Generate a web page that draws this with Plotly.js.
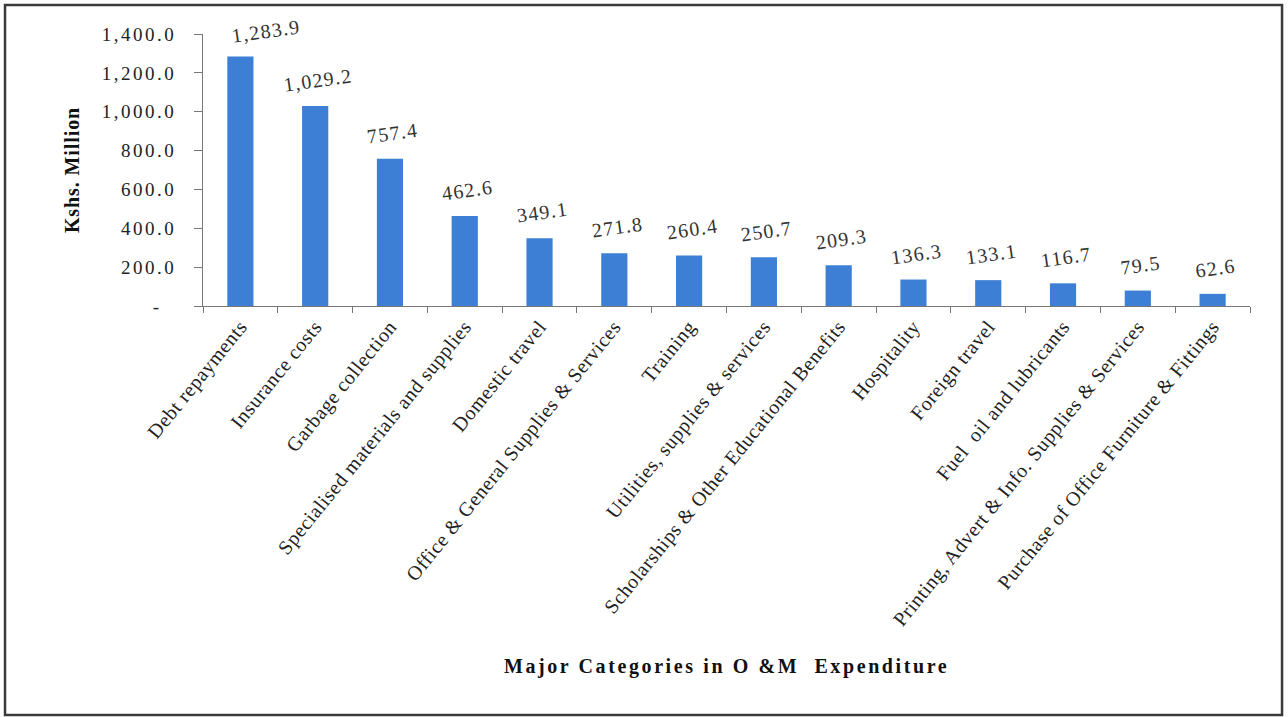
<!DOCTYPE html>
<html>
<head>
<meta charset="utf-8">
<script src="https://cdn.plot.ly/plotly-3.0.1.min.js"></script>
<style>
  html, body { margin: 0; padding: 0; background: #ffffff; }
  #chart { width: 1288px; height: 717px; }
  #chart g.xtick text { letter-spacing: 0.6px; }
  #chart g.ytick text { letter-spacing: 2.5px; }
  #chart text.ytitle { letter-spacing: 0.9px; }
  #chart g.annotation text { letter-spacing: 1.3px; }
  #chart g.annotation[data-index="14"] text { letter-spacing: 2.6px; }
</style>
</head>
<body>
<div id="chart"></div>
<script>
const categories = [
  "Debt repayments",
  "Insurance costs",
  "Garbage collection",
  "Specialised materials and supplies",
  "Domestic travel",
  "Office & General Supplies & Services",
  "Training",
  "Utilities, supplies & services",
  "Scholarships & Other Educational Benefits",
  "Hospitality",
  "Foreign travel",
  "Fuel  oil and lubricants",
  "Printing, Advert & Info. Supplies & Services",
  "Purchase of Office Furniture & Fittings"
];
const values = [1283.9, 1029.2, 757.4, 462.6, 349.1, 271.8, 260.4, 250.7, 209.3, 136.3, 133.1, 116.7, 79.5, 62.6];
const yTickVals = [0, 200, 400, 600, 800, 1000, 1200, 1400];
const yTickText = ["-\u00a0\u00a0", "200.0", "400.0", "600.0", "800.0", "1,000.0", "1,200.0", "1,400.0"];
const xTitle = "Major Categories in O &M  Expenditure";
const yTitle = "Kshs. Million";

const fmt = v => v.toLocaleString("en-US", {minimumFractionDigits: 1, maximumFractionDigits: 1});

const serif = "Liberation Serif, Times New Roman, serif";

const trace = {
  type: "bar",
  x: categories,
  y: values,
  marker: { color: "#3c7fd4", line: { width: 0 } },
  width: 0.35,
  hoverinfo: "x+y"
};

const annotations = categories.map((c, i) => ({
  x: c, y: values[i], xref: "x", yref: "y",
  text: fmt(values[i]),
  showarrow: false,
  yshift: 26,
  xshift: i === 0 ? 26 : 3,
  textangle: -8,
  font: { family: serif, size: 20, color: "#333333" }
}));

annotations.push({
  xref: "paper", yref: "paper",
  x: 0.5, y: -1.327,
  xanchor: "center", yanchor: "middle",
  text: "<b>" + xTitle.replace(/  /g, "\u00a0 ") + "</b>",
  showarrow: false,
  font: { family: serif, size: 20, color: "#111111" }
});

const layout = {
  width: 1288, height: 717,
  margin: { l: 203, r: 38, t: 34, b: 411 },
  paper_bgcolor: "#ffffff",
  plot_bgcolor: "#ffffff",
  showlegend: false,
  xaxis: {
    type: "category",
    tickangle: -51,
    tickson: "boundaries",
    ticks: "outside",
    ticklen: 6,
    tickcolor: "#777777",
    showline: true,
    linecolor: "#777777",
    linewidth: 1,
    showgrid: false,
    zeroline: false,
    tickfont: { family: serif, size: 20, color: "#222222" }
  },
  yaxis: {
    range: [0, 1400],
    tickvals: yTickVals,
    ticktext: yTickText,
    ticks: "outside",
    ticklen: 8,
    tickcolor: "#777777",
    showline: true,
    linecolor: "#777777",
    linewidth: 1,
    showgrid: false,
    zeroline: false,
    ticklabelstandoff: 14,
    tickfont: { family: serif, size: 19, color: "#222222" },
    title: {
      text: "<b>" + yTitle + "</b>",
      font: { family: serif, size: 20, color: "#111111" },
      standoff: 34
    }
  },
  annotations: annotations,
  shapes: [{
    type: "rect", xref: "paper", yref: "paper",
    x0: -0.1891, x1: 1.0306, y0: -1.5037, y1: 1.1066,
    line: { color: "#3a3a3a", width: 2.5 },
    fillcolor: "rgba(0,0,0,0)",
    layer: "below"
  }]
};

Plotly.newPlot("chart", [trace], layout, { displayModeBar: false, staticPlot: true });
</script>
</body>
</html>
